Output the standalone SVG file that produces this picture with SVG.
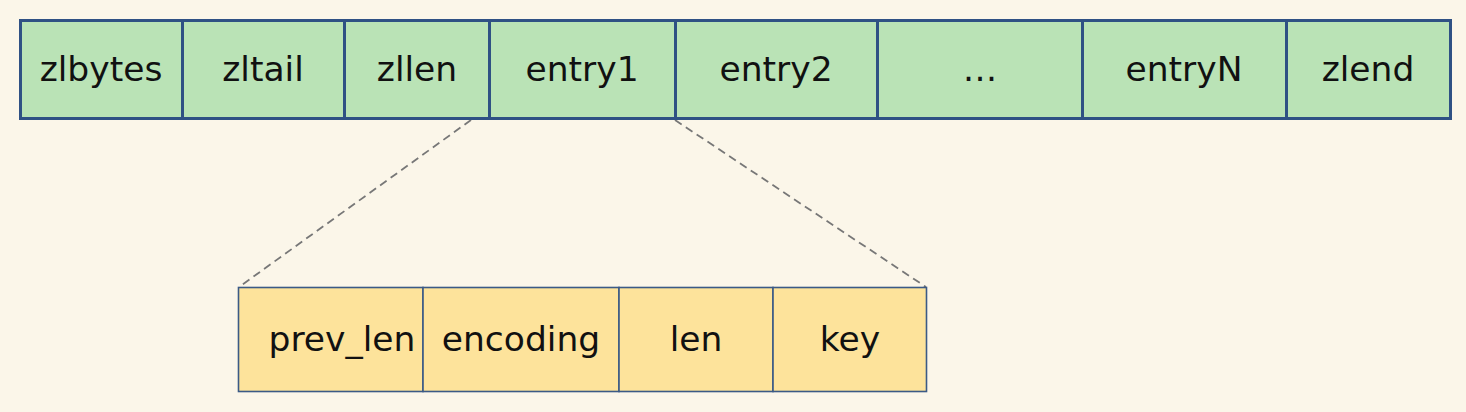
<svg xmlns="http://www.w3.org/2000/svg" width="1466" height="412" viewBox="0 0 1466 412">
<style>
.top{fill:#bae3b6;stroke:#2f5184;stroke-width:3}
.bot{fill:#fde39b;stroke:#3b5a86;stroke-width:1.6}
.t{font-family:"DejaVu Sans","Liberation Sans",sans-serif;font-size:34.5px;fill:#111;text-anchor:middle}
.dash{fill:none;stroke:#777;stroke-width:1.8;stroke-dasharray:8 5}
</style>
<rect width="1466" height="412" fill="#fbf6e9"/>
<g id="connectors">
<line class="dash" x1="471" y1="120" x2="239" y2="287"/>
<line class="dash" x1="675" y1="120" x2="926" y2="287"/>
</g>
<g id="zlbytes"><rect class="top" x="20.5" y="20.5" width="162" height="98"/><text class="t" x="101" y="81">zlbytes</text></g>
<g id="zltail"><rect class="top" x="182.5" y="20.5" width="162" height="98"/><text class="t" x="263" y="81">zltail</text></g>
<g id="zllen"><rect class="top" x="344.5" y="20.5" width="145" height="98"/><text class="t" x="417" y="81">zllen</text></g>
<g id="entry1"><rect class="top" x="489.5" y="20.5" width="186" height="98"/><text class="t" x="582" y="81">entry1</text></g>
<g id="entry2"><rect class="top" x="675.5" y="20.5" width="202" height="98"/><text class="t" x="776" y="81">entry2</text></g>
<g id="ellipsis"><rect class="top" x="877.5" y="20.5" width="205" height="98"/><text class="t" x="980" y="81">…</text></g>
<g id="entryN"><rect class="top" x="1082.5" y="20.5" width="204" height="98"/><text class="t" x="1184" y="81">entryN</text></g>
<g id="zlend"><rect class="top" x="1286.5" y="20.5" width="164" height="98"/><text class="t" x="1368" y="81">zlend</text></g>
<g id="prev_len"><rect class="bot" x="238.5" y="287.5" width="184.5" height="104"/><text class="t" x="342" y="351">prev_len</text></g>
<g id="encoding"><rect class="bot" x="423" y="287.5" width="196" height="104"/><text class="t" x="521" y="351">encoding</text></g>
<g id="len"><rect class="bot" x="619" y="287.5" width="154" height="104"/><text class="t" x="696" y="351">len</text></g>
<g id="key"><rect class="bot" x="773" y="287.5" width="153.5" height="104"/><text class="t" x="850" y="351">key</text></g>
</svg>
